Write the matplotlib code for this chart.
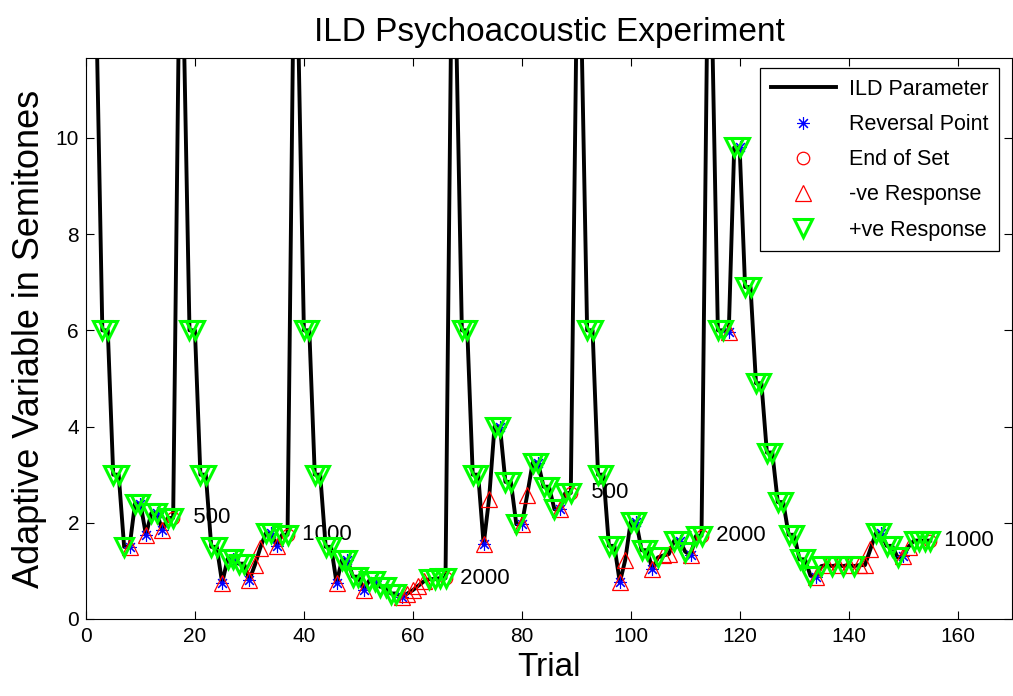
import matplotlib
matplotlib.use("Agg")
import matplotlib.pyplot as plt
import numpy as np

plt.rcParams['font.family'] = ['Liberation Sans', 'DejaVu Sans']

# ---- data: ILD parameter per trial, grouped by set ----
set1_values = [12, 12, 6, 6, 3, 3, 1.5, 1.5, 2.4, 2.4, 1.75, 2.2, 2.2, 1.85, 2.1, 2.1]
set2_values = [12, 12, 6, 6, 3, 3, 1.5, 1.5, 0.75, 1.25, 1.25, 1.15, 1.15, 0.82, 1.12,
               1.48, 1.78, 1.78, 1.52, 1.75, 1.75]
set3_values = [12, 12, 6, 6, 3, 3, 1.5, 1.5, 0.75, 1.23, 1.23, 0.88, 0.88, 0.6, 0.8, 0.8,
               0.67, 0.67, 0.53, 0.53, 0.46, 0.53, 0.6, 0.69, 0.78, 0.83, 0.83, 0.85, 0.85]
set4_values = [12, 12, 6, 6, 3, 3, 1.55, 2.5, 4.0, 4.0, 2.85, 2.85, 1.97, 1.97, 2.58,
               3.25, 3.25, 2.75, 2.75, 2.28, 2.28, 2.62, 2.62]
set5_values = [12, 12, 6, 6, 3, 3, 1.52, 1.52, 0.76, 1.23, 2.02, 2.02, 1.43, 1.43, 1.03,
               1.28, 1.32, 1.35, 1.63, 1.63, 1.4, 1.33, 1.73, 1.73]
set6_values = [12, 12, 6, 6, 5.96, 9.8, 9.8, 6.9, 6.9, 4.9, 4.9, 3.46, 3.46, 2.43, 2.43,
               1.75, 1.75, 1.24, 1.24, 0.9, 0.87, 1.1, 1.12, 1.1, 1.12, 1.1, 1.12, 1.1,
               1.12, 1.12, 1.45, 1.78, 1.78, 1.52, 1.52, 1.28, 1.3, 1.5, 1.63, 1.63, 1.63, 1.63]

# response per trial: '+' positive, '-' negative
set1_resp = "+++++++-++-++-++"
set2_resp = "++++++++-++++---++-++"
set3_resp = "++++++++-++++-++++++-----++++"
set4_resp = "++++++--+++++--+++++-++"
set5_resp = "++++++++--++++-+--+++-++"
set6_resp = "++++" + "-" + "++" + "++++++++++++" + "+" + "-" + "+-+-+-+-" + "--" + "+++++" + "--" + "++++"

# reversal trials (trial numbers)
reversal_trials = [8, 10, 11, 13, 14,
                   25, 27, 30, 34, 35,
                   46, 48, 51, 53, 58,
                   73, 76, 80, 83, 87,
                   98, 101, 104, 109, 111,
                   118, 120, 134, 146, 150]

set_freqs = [500, 1000, 2000, 500, 2000, 1000]

# ---- assemble ----
sets_v = [set1_values, set2_values, set3_values, set4_values, set5_values, set6_values]
sets_r = [set1_resp, set2_resp, set3_resp, set4_resp, set5_resp, set6_resp]
ild = np.concatenate([np.array(v, float) for v in sets_v])
resp = np.array(list("".join(sets_r)))
trials = np.arange(1, len(ild) + 1)
set_end = np.cumsum([len(v) for v in sets_v])  # trial numbers of set ends

fig = plt.figure(figsize=(10.13, 6.96), dpi=100)
ax = fig.add_axes([86 / 1013, 77 / 696, (1012 - 86) / 1013, (619 - 58) / 696])

ax.plot(trials, ild, color='k', lw=2.8, label='ILD Parameter', zorder=2)
ri = np.array(reversal_trials) - 1
ax.plot(trials[ri], ild[ri], ls='none', marker=(8, 2, 0), color='b', ms=9, mew=0.8,
        label='Reversal Point', zorder=3)
ei = set_end - 1
ax.plot(trials[ei], ild[ei], ls='none', marker='o', mfc='none', mec='r', ms=9, mew=0.9,
        label='End of Set', zorder=3)
neg = resp == '-'
ax.plot(trials[neg], ild[neg], ls='none', marker='^', mfc='none', mec='r', ms=12, mew=0.9,
        label='-ve Response', zorder=4)
pos = resp == '+'
ax.plot(trials[pos], ild[pos], ls='none', marker='v', mfc='none', mec=(0, 1, 0), ms=13,
        mew=2.2, label='+ve Response', zorder=5)

for e, f in zip(set_end, set_freqs):
    ax.text(trials[e - 1] + 1.5, ild[e - 1], f"{f:5d}", fontsize=16, ha='left', va='center')

ax.set_xlim(0, 170)
ax.set_ylim(0, 11.66)
ax.set_xticks(np.arange(0, 161, 20))
ax.set_yticks(np.arange(0, 11, 2))
ax.tick_params(direction='in', top=True, right=True, length=6, width=0.8, labelsize=15)
ax.tick_params(axis='x', pad=6)
ax.tick_params(axis='y', pad=5)
for s in ax.spines.values():
    s.set_linewidth(0.8)

ax.set_title('ILD Psychoacoustic Experiment', fontsize=24, pad=12)
ax.set_xlabel('Trial', fontsize=24, labelpad=4)
ax.set_ylabel('Adaptive Variable in Semitones', fontsize=26, labelpad=6)

leg = ax.legend(loc='upper right', bbox_to_anchor=(0.986, 0.982), fontsize=15.5,
                frameon=True, fancybox=False, edgecolor='k', framealpha=1,
                borderaxespad=0, handlelength=3.0, handletextpad=0.6,
                labelspacing=0.66, borderpad=0.5)
leg.get_frame().set_linewidth(0.9)

fig.savefig('out.png', dpi=100)
